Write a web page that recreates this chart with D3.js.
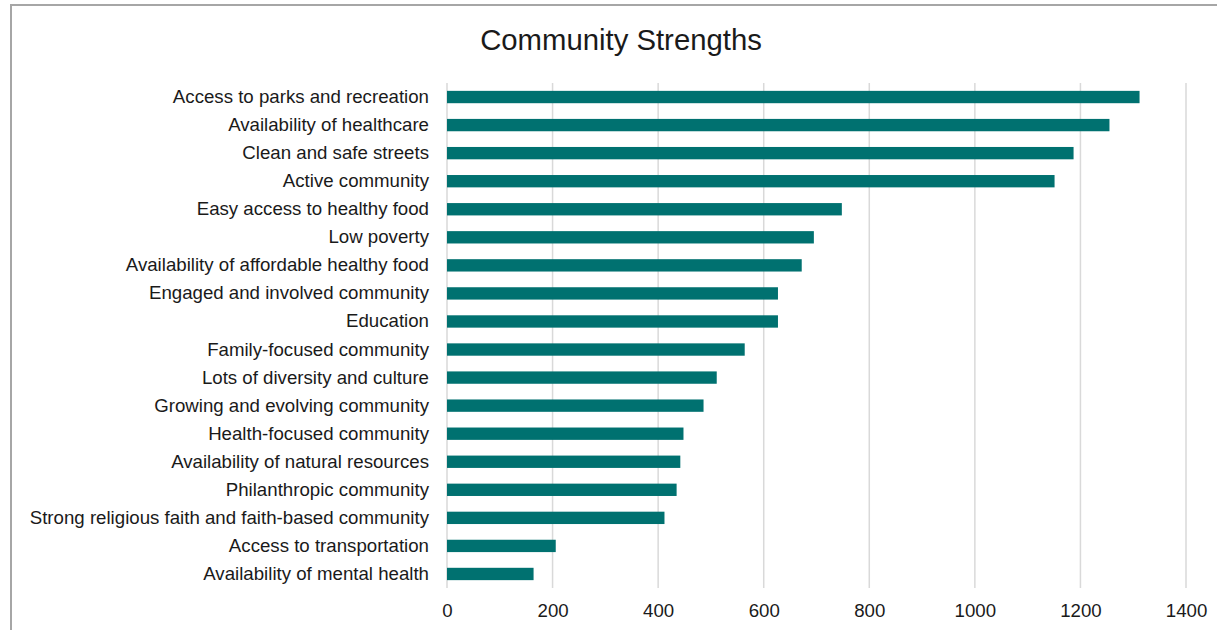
<!DOCTYPE html>
<html><head><meta charset="utf-8">
<script src="https://cdn.jsdelivr.net/npm/d3@7"></script>
<style>body{margin:0;background:#fff;} svg{display:block;font-family:"Liberation Sans",Arial,sans-serif;}</style>
</head><body>
<script>
const categories = [
  "Access to parks and recreation",
  "Availability of healthcare",
  "Clean and safe streets",
  "Active community",
  "Easy access to healthy food",
  "Low poverty",
  "Availability of affordable healthy food",
  "Engaged and involved community",
  "Education",
  "Family-focused community",
  "Lots of diversity and culture",
  "Growing and evolving community",
  "Health-focused community",
  "Availability of natural resources",
  "Philanthropic community",
  "Strong religious faith and faith-based community",
  "Access to transportation",
  "Availability of mental health"
];
const values = [1312, 1255, 1187, 1151, 748, 695, 672, 627, 627, 564, 511, 486, 448, 442, 435, 412, 206, 164];
const ticks = [0, 200, 400, 600, 800, 1000, 1200, 1400];
const title = "Community Strengths";

const W = 1217, H = 630;
const svg = d3.select("body").append("svg").attr("width", W).attr("height", H);

// outer frame
svg.append("path").attr("d", `M11,${H} L11,5 L${W},5`).attr("fill","none").attr("stroke","#a6a6a6").attr("stroke-width",2);

const m = {left: 447, right: W - 1186, top: 83, bottom: H - 588};
const x = d3.scaleLinear().domain([0, 1400]).range([m.left, W - m.right]);
const y = d3.scaleBand().domain(categories).range([m.top, H - m.bottom]).paddingInner(0.56).paddingOuter(0.28);

// gridlines
svg.append("g").selectAll("line").data(ticks).join("line")
  .attr("x1", d => x(d)).attr("x2", d => x(d))
  .attr("y1", m.top).attr("y2", H - m.bottom)
  .attr("stroke", "#d9d9d9").attr("stroke-width", 1.5);

// bars
svg.append("g").selectAll("rect").data(values).join("rect")
  .attr("x", x(0)).attr("y", (d, i) => y(categories[i]))
  .attr("width", d => x(d) - x(0)).attr("height", y.bandwidth())
  .attr("fill", "#007170");

const FS = 18.67;
// y axis labels
const yAxis = d3.axisLeft(y).tickSize(0).tickPadding(18);
const gy = svg.append("g").attr("transform", `translate(${m.left},0)`).call(yAxis);
gy.select(".domain").remove();
gy.selectAll("text").attr("font-size", FS).attr("fill", "#1a1a1a").style("font-family", '"Liberation Sans",Arial,sans-serif');

// x axis labels
const xAxis = d3.axisBottom(x).tickValues(ticks).tickSize(0).tickPadding(16).tickFormat(d3.format("d"));
const gx = svg.append("g").attr("transform", `translate(0,${H - m.bottom})`).call(xAxis);
gx.select(".domain").remove();
gx.selectAll("text").attr("font-size", FS).attr("fill", "#1a1a1a").style("font-family", '"Liberation Sans",Arial,sans-serif');

// title
svg.append("text").attr("x", 621).attr("y", 50).attr("text-anchor", "middle")
  .attr("font-size", 29.3).attr("fill", "#1a1a1a").text(title);
</script>
</body></html>
